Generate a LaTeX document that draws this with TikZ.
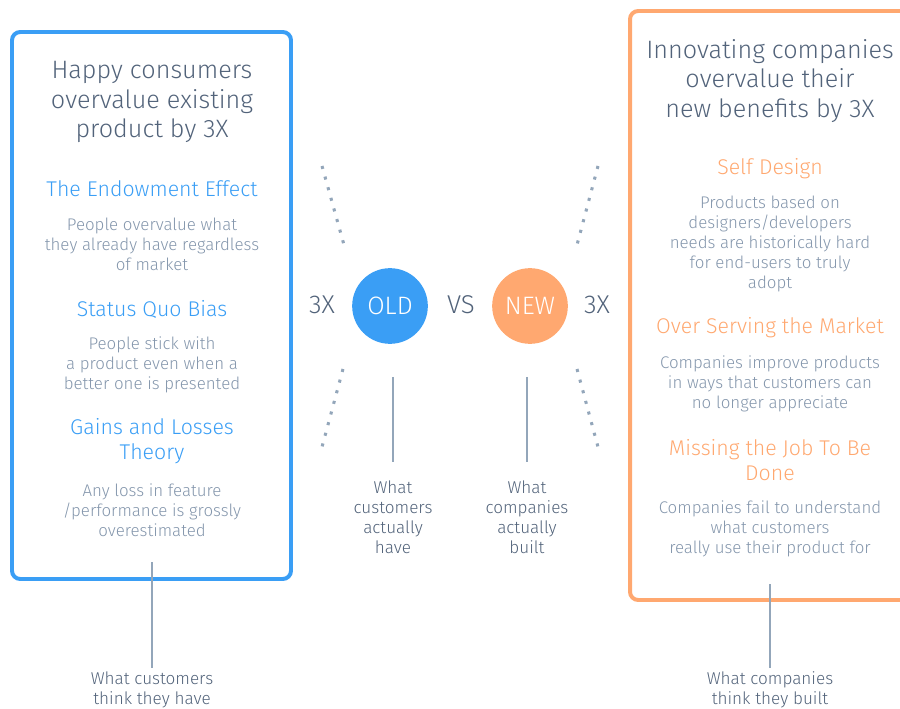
\documentclass[tikz,border=0pt]{standalone}
\usepackage{fontspec}
\setmainfont{Fira Sans}[UprightFont=* Light]
\usetikzlibrary{positioning}
\definecolor{oldblue}{HTML}{3A9EF5}
\definecolor{neworange}{HTML}{FFA870}
\definecolor{inkdark}{HTML}{52637A}
\definecolor{inklight}{HTML}{8496AC}
\definecolor{stemgray}{HTML}{93A6BA}

\begin{document}
\begin{tikzpicture}[x=0.03cm, y=-0.03cm]
\tikzstyle{boxframe} = [line width=3.4pt, rounded corners=7pt];
\tikzstyle{title} = [align=center, text=inkdark, font=\fontsize{21.5}{25.5}\selectfont];
\tikzstyle{head} = [align=center, font=\fontsize{18.2}{21}\selectfont];
\tikzstyle{body} = [align=center, text=inklight, font=\fontsize{14.4}{17}\selectfont];
\tikzstyle{note} = [align=center, text=inkdark, font=\fontsize{14.6}{17}\selectfont];
\tikzstyle{times} = [text=inkdark, font=\fontsize{22}{24}\selectfont];
\tikzstyle{bubble} = [circle, minimum size=64.6pt, inner sep=0pt, text=white, font=\fontsize{21.5}{24}\selectfont];
\tikzstyle{stem} = [stemgray, line width=1.6pt];
\tikzstyle{dotrow} = [stemgray, line width=2.6pt, dash pattern=on 2.6pt off 6.8pt];

\path[use as bounding box, clip] (0, 0) rectangle (900, 709);

% the two frames
\draw[boxframe, oldblue] (12, 32) rectangle (291, 579);
\draw[boxframe, neworange] (630, 11) rectangle (915, 600);

% left column
\node[title] (lt) at (152, 102) {Happy consumers\\overvalue existing\\product by 3X};
\node[head, text=oldblue] (lh1) at (152, 189) {The Endowment Effect};
\node[body] (lb1) at (152, 244) {People overvalue what\\they already have regardless\\of market};
\node[head, text=oldblue] (lh2) at (152, 309) {Status Quo Bias};
\node[body] (lb2) at (152, 365) {People stick with\\a product even when a\\better one is presented};
\node[head, text=oldblue] (lh3) at (152, 441) {Gains and Losses\\Theory};
\node[body] (lb3) at (152, 510) {Any loss in feature\\/performance is grossly\\overestimated};

% right column
\node[title] (rt) at (770, 81) {Innovating companies\\overvalue their\\new benefits by 3X};
\node[head, text=neworange] (rh1) at (770, 169) {Self Design};
\node[body] (rb1) at (770, 244) {Products based on\\designers/developers\\needs are historically hard\\for end-users to truly\\adopt};
\node[head, text=neworange] (rh2) at (770, 328) {Over Serving the Market};
\node[body] (rb2) at (770, 384) {Companies improve products\\in ways that customers can\\no longer appreciate};
\node[head, text=neworange] (rh3) at (770, 460) {Missing the Job To Be\\Done};
\node[body] (rb3) at (770, 529) {Companies fail to understand\\what customers\\really use their product for};

% middle
\node[times] (ltimes) at (322, 305) {3X};
\node[bubble, fill=oldblue] (old) at (390, 306) {OLD};
\node[times] (vs) at (461, 305) {VS};
\node[bubble, fill=neworange] (new) at (530, 306) {NEW};
\node[times] (rtimes) at (597, 305) {3X};

\node[note] (oldtxt) at (393, 517) {What\\customers\\actually\\have};
\node[note] (newtxt) at (527, 517) {What\\companies\\actually\\built};
\node[note] (ltxt) at (152, 690) {What customers\\think they have};
\node[note] (rtxt) at (770, 690) {What companies\\think they built};

\coordinate (lstem) at (152, 562);
\coordinate (rstem) at (770, 584);
\draw[stem, shorten <=28pt, shorten >=12pt] (oldtxt.north |- old.south) -- (oldtxt.north);
\draw[stem, shorten <=28pt, shorten >=12pt] (newtxt.north |- new.south) -- (newtxt.north);
\draw[stem] (lstem) -- (ltxt.north);
\draw[stem] (rstem) -- (rtxt.north);

% dotted rays
\draw[dotrow] (322, 166) -- (344, 245);
\draw[dotrow] (598, 166) -- (577, 245);
\draw[dotrow] (343, 369) -- (322, 447);
\draw[dotrow] (577, 369) -- (598, 447);
\end{tikzpicture}
\end{document}
